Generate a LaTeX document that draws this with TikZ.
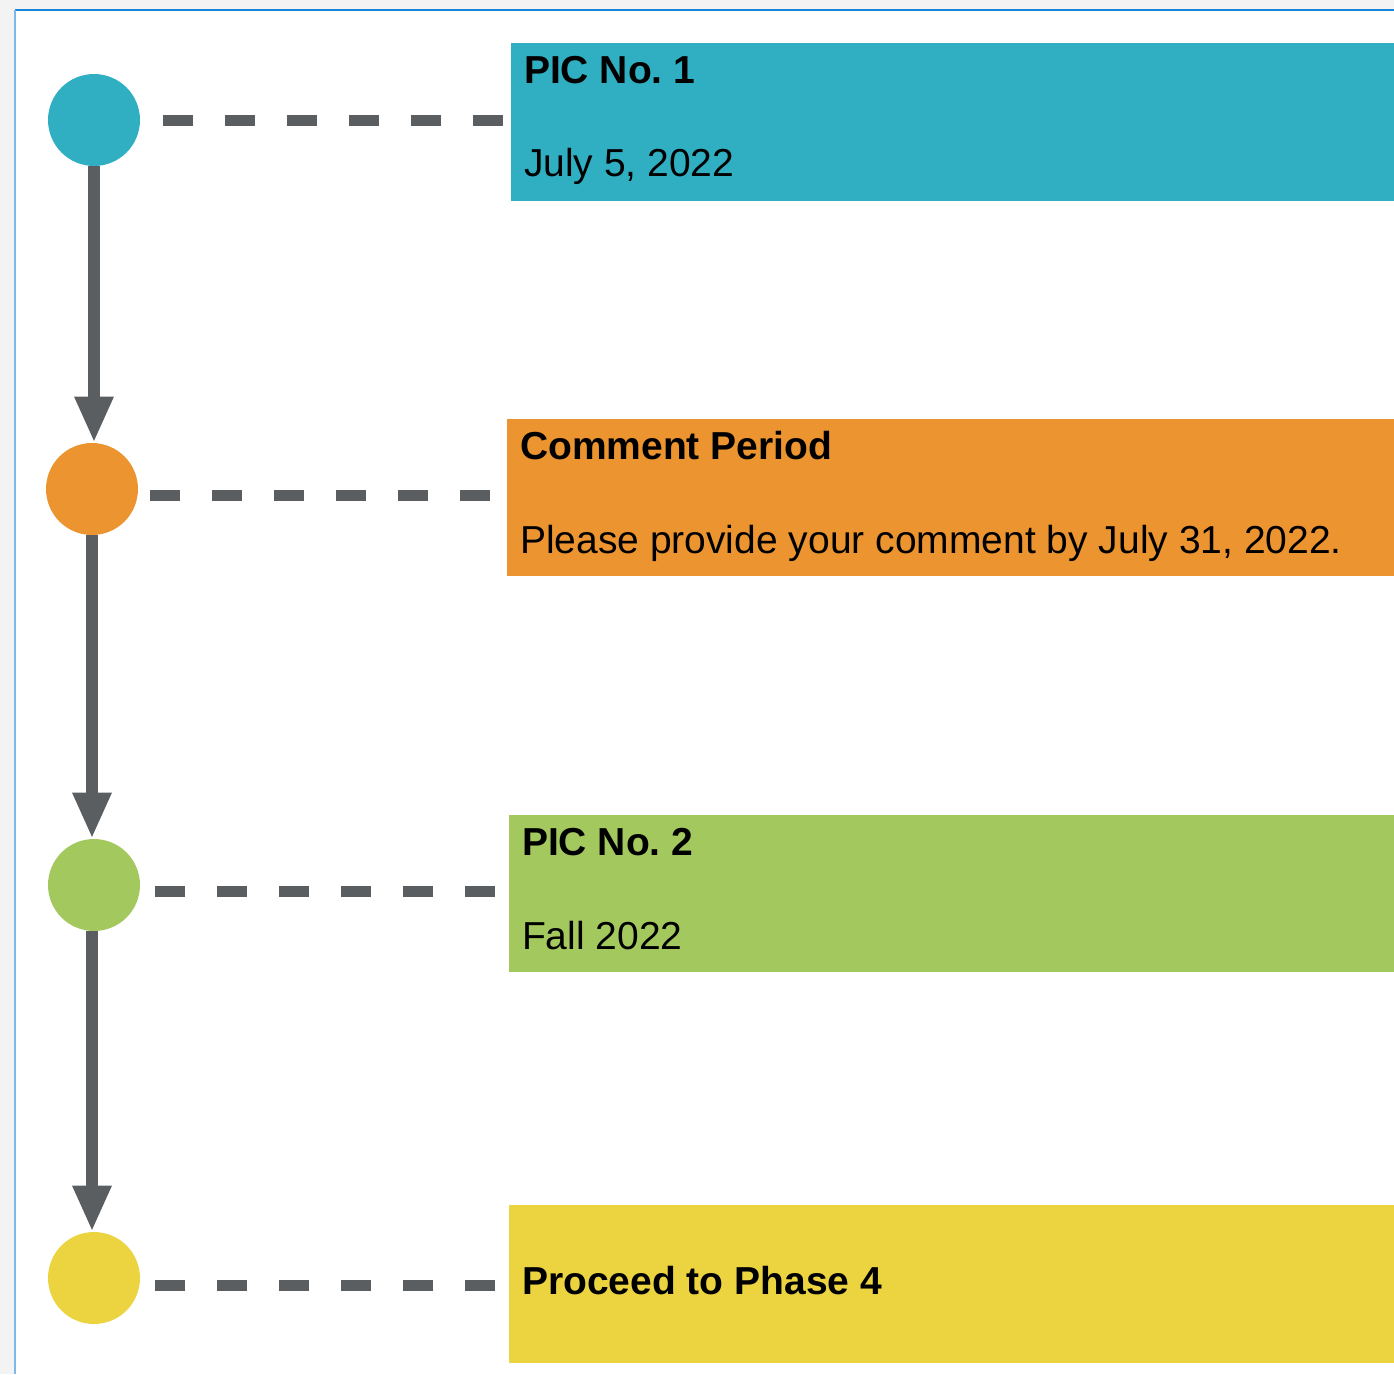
\documentclass[tikz,border=0pt]{standalone}
\usepackage{fontspec}
\setmainfont{Liberation Sans}
\usetikzlibrary{arrows.meta,calc}
\definecolor{cteal}{HTML}{2FAFC1}
\definecolor{corange}{HTML}{EC942F}
\definecolor{cgreen}{HTML}{A3C85E}
\definecolor{cyellow}{HTML}{ECD440}
\definecolor{cgray}{HTML}{5B5E61}
\definecolor{bggray}{HTML}{F3F3F3}
\definecolor{topblue}{HTML}{1A84D8}
\definecolor{leftblue}{HTML}{7DB8EA}
\frenchspacing
\begin{document}
\begin{tikzpicture}[x=0.02cm,y=-0.02cm,
  dot/.style={circle,minimum size=1.84cm,inner sep=0pt,draw=none},
  box/.style={rectangle,inner sep=0pt,draw=none,minimum height=3.15cm},
  titletext/.style={anchor=base west,inner sep=0pt,font=\fontsize{22.2}{26}\selectfont\bfseries},
  bodytext/.style={anchor=base west,inner sep=0pt,font=\fontsize{22.2}{26}\selectfont},
  dashline/.style={draw=cgray,line width=0.22cm,dash pattern=on 0.6cm off 0.64cm},
  flow/.style={draw=cgray,line width=0.24cm,-{Triangle[width=0.72cm,length=0.92cm]}}]
\fill[bggray] (0,0) rectangle (1394,1374);
\useasboundingbox (0,0) rectangle (1394,1374);
\fill[white] (15,10) rectangle (1394,1374);
\draw[topblue,line width=0.04cm] (15,10) -- (1394,10);
\draw[leftblue,line width=0.04cm] (15,10) -- (15,1374);

% circles
\node[dot,fill=cteal] (c1) at (94,120) {};
\node[dot,fill=corange] (c2) at (92,489) {};
\node[dot,fill=cgreen] (c3) at (94,885) {};
\node[dot,fill=cyellow] (c4) at (94,1278) {};

% boxes
\node[box,fill=cteal,minimum width=17.66cm,minimum height=3.16cm] (b1) at (952.5,122) {};
\node[box,fill=corange,minimum width=17.74cm,minimum height=3.14cm] (b2) at (950.5,497.5) {};
\node[box,fill=cgreen,minimum width=17.7cm,minimum height=3.14cm] (b3) at (951.5,893.5) {};
\node[box,fill=cyellow,minimum width=17.7cm,minimum height=3.16cm] (b4) at (951.5,1284) {};

% texts
\node[titletext] (t1) at ($(b1.north west)+(13,41)$) {PIC No. 1};
\node[bodytext] (d1) at ($(b1.north west)+(13,134)$) {July 5, 2022};
\node[titletext] (t2) at ($(b2.north west)+(13,41)$) {Comment Period};
\node[bodytext] (d2) at ($(b2.north west)+(13,135)$) {Please provide your comment by July 31, 2022.};
\node[titletext] (t3) at ($(b3.north west)+(13,41)$) {PIC No. 2};
\node[bodytext] (d3) at ($(b3.north west)+(13,135)$) {Fall 2022};
\node[titletext] (t4) at ($(b4.west)+(13,10)$) {Proceed to Phase 4};

% dashed connectors
\draw[dashline] ($(c1.east)+(23,0)$) -- ($(c1.east -| b1.west)+(-8,0)$);
\draw[dashline] ($(c2.east)+(12,6)$) -- ($(c2.east -| b2.west)+(-16,6)$);
\draw[dashline] ($(c3.east)+(15,6)$) -- ($(c3.east -| b3.west)+(-14,6)$);
\draw[dashline] ($(c4.east)+(15,7)$) -- ($(c4.east -| b4.west)+(-14,7)$);

% flow arrows
\draw[flow] (c1.south) -- (c1 |- c2.north);
\draw[flow] (c2.south) -- (c2 |- c3.north);
\draw[flow] ($(c3.south)+(-2,0)$) -- ($(c3 |- c4.north)+(-2,0)$);
\end{tikzpicture}
\end{document}
